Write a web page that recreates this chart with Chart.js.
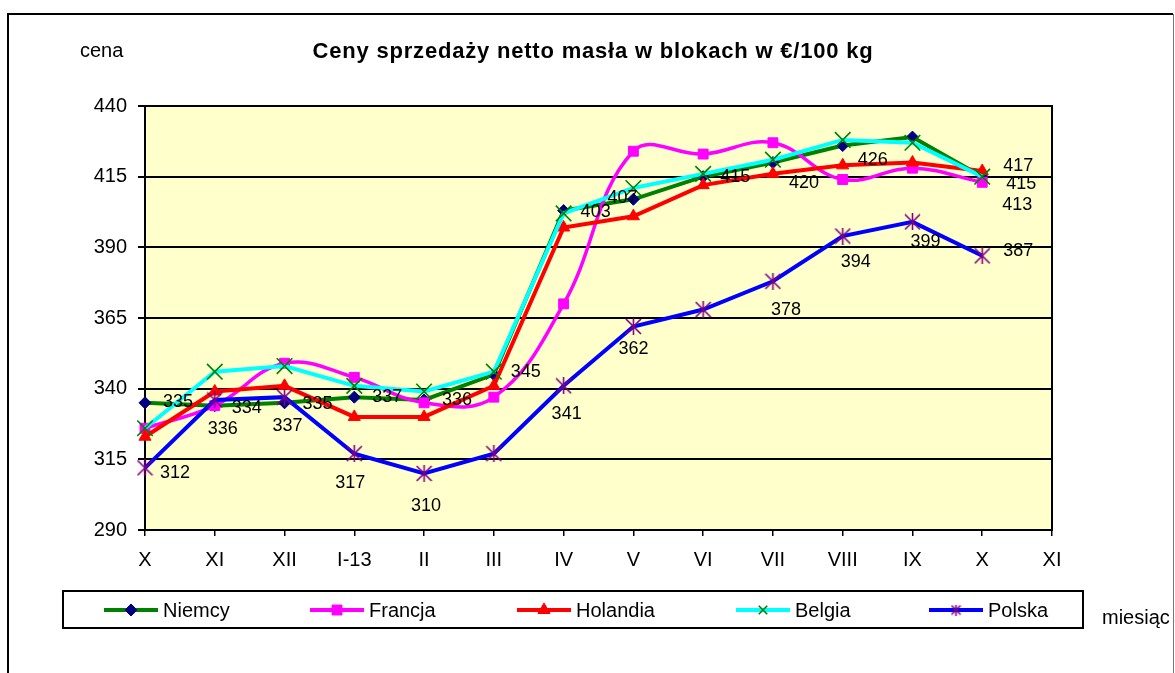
<!DOCTYPE html>
<html>
<head>
<meta charset="utf-8">
<script src="https://cdn.jsdelivr.net/npm/chart.js@4.4.1/dist/chart.umd.min.js"></script>
<style>
  html, body { margin: 0; padding: 0; background: #fff; }
  canvas { display: block; }
</style>
</head>
<body>
<canvas id="chart" width="1175" height="673"></canvas>
<script>
const months = ['X', 'XI', 'XII', 'I-13', 'II', 'III', 'IV', 'V', 'VI', 'VII', 'VIII', 'IX', 'X', 'XI'];
const niemcy   = [335, 334, 335, 337, 336, 345, 403, 407, 415, 420, 426, 429, 415];
const francja  = [326, 334, 349, 344, 335, 337, 370, 424, 423, 427, 414, 418, 413];
const holandia = [323, 339, 341, 330, 330, 341, 397, 401, 412, 416, 419, 420, 417];
const belgia   = [326, 346, 348, 341, 339, 346, 402, 411, 416, 421, 428, 427, 415];
const polska   = [312, 336, 337, 317, 310, 317, 341, 362, 368, 378, 394, 399, 387];
const yTicks = [290, 315, 340, 365, 390, 415, 440];

const FONT = '"Liberation Sans", Arial, sans-serif';

// value labels: point index -> [dx to text start, dy to text middle]
const labelOffsets = {
  0: {0: [18, -1], 1: [17, 2], 2: [18, 1], 3: [18, 0], 4: [18, 0], 5: [17, -3], 6: [17, 1],
      7: [-26, -1], 8: [17, 0], 9: [16, 20], 10: [15, 14], 12: [24, 7]},
  1: {12: [20, 23]},
  2: {12: [21, -5]},
  4: {0: [15, 5], 1: [-7, 29], 2: [-12, 29], 3: [-19, 29], 4: [-13, 33], 6: [-12, 28],
      7: [-15, 23], 9: [-2, 29], 10: [-2, 26], 11: [-2, 20], 12: [21, -5]}
};

// excel style asterisk marker (x plus vertical bar)
function makeStar(size, color) {
  const c = document.createElement('canvas');
  c.width = size; c.height = size;
  const g = c.getContext('2d');
  g.strokeStyle = color;
  g.lineWidth = 1.6;
  const m = size / 2, r = size / 2 - 1;
  g.beginPath();
  g.moveTo(m - r, m - r); g.lineTo(m + r, m + r);
  g.moveTo(m + r, m - r); g.lineTo(m - r, m + r);
  g.moveTo(m, 0); g.lineTo(m, size);
  g.stroke();
  return c;
}
const starBig = makeStar(17, '#800080');
const starSmall = makeStar(11, '#800080');

const legendX = [104, 310, 517, 736, 929];

const framePlugin = {
  id: 'frame',
  beforeDraw(chart) {
    const { ctx, chartArea: a } = chart;
    ctx.save();
    ctx.fillStyle = '#fff';
    ctx.fillRect(0, 0, chart.width, chart.height);
    ctx.fillStyle = '#FFFFCC';
    ctx.fillRect(a.left, a.top, a.right - a.left, a.bottom - a.top);
    ctx.restore();
  },
  beforeDatasetsDraw(chart) {
    const { ctx, chartArea: a } = chart;
    ctx.save();
    ctx.strokeStyle = '#000';
    ctx.lineWidth = 2;
    ctx.strokeRect(a.left, a.top, a.right - a.left, a.bottom - a.top);
    ctx.restore();
  },
  afterDraw(chart) {
    const { ctx } = chart;
    ctx.save();
    // outer frame
    ctx.strokeStyle = '#000';
    ctx.lineWidth = 2;
    ctx.beginPath();
    ctx.moveTo(8, 700); ctx.lineTo(8, 14); ctx.lineTo(1173, 14);
    ctx.stroke();
    ctx.strokeStyle = '#777';
    ctx.lineWidth = 1;
    ctx.beginPath();
    ctx.moveTo(1173.5, 14); ctx.lineTo(1173.5, 700);
    ctx.stroke();

    // title and axis names
    ctx.fillStyle = '#000';
    ctx.textBaseline = 'middle';
    ctx.textAlign = 'center';
    ctx.font = 'bold 22px ' + FONT;
    ctx.letterSpacing = '0.8px';
    ctx.fillText('Ceny sprzedaży netto masła w blokach w €/100 kg', 593, 52);
    ctx.letterSpacing = '0px';
    ctx.textAlign = 'left';
    ctx.font = '20px ' + FONT;
    ctx.fillText('cena', 80, 51);
    ctx.fillText('miesiąc', 1102, 618);

    // legend
    ctx.lineWidth = 2;
    ctx.strokeStyle = '#000';
    ctx.strokeRect(63, 591, 1020, 37);
    chart.data.datasets.forEach((ds, i) => {
      const x0 = legendX[i], y = 610;
      ctx.strokeStyle = ds.borderColor;
      ctx.lineWidth = 4;
      ctx.beginPath();
      ctx.moveTo(x0, y); ctx.lineTo(x0 + 54, y);
      ctx.stroke();
      ctx.fillStyle = ds.pointBackgroundColor;
      ctx.strokeStyle = ds.pointBorderColor;
      ctx.lineWidth = ds.pointBorderWidth;
      const style = ds.legendPointStyle || ds.pointStyle;
      Chart.helpers.drawPoint(ctx, {
        pointStyle: style, radius: ds.legendRadius || ds.pointRadius,
        borderWidth: ds.pointBorderWidth, rotation: 0
      }, x0 + 27, y);
      ctx.fillStyle = '#000';
      ctx.font = '20px ' + FONT;
      ctx.textAlign = 'left';
      ctx.textBaseline = 'middle';
      ctx.fillText(ds.label, x0 + 59, y + 1);
    });
    ctx.restore();
  },
  afterDatasetsDraw(chart) {
    const { ctx } = chart;
    ctx.save();
    ctx.fillStyle = '#000';
    ctx.font = '18px ' + FONT;
    ctx.textAlign = 'left';
    ctx.textBaseline = 'middle';
    Object.keys(labelOffsets).forEach(di => {
      const meta = chart.getDatasetMeta(+di);
      const data = chart.data.datasets[di].data;
      Object.keys(labelOffsets[di]).forEach(idx => {
        const pt = meta.data[idx];
        const [dx, dy] = labelOffsets[di][idx];
        ctx.fillText(String(data[idx]), pt.x + dx, pt.y + dy);
      });
    });
    ctx.restore();
  }
};

function series(label, data, line, point, style, radius, order, extra) {
  return Object.assign({
    label, data, order,
    borderColor: line, backgroundColor: line,
    borderWidth: 4,
    pointStyle: style, pointRadius: radius, pointHoverRadius: radius,
    pointBackgroundColor: point, pointBorderColor: point, pointBorderWidth: 1,
    tension: 0, clip: false
  }, extra || {});
}

const datasets = [
  series('Niemcy', niemcy, '#008000', '#000080', 'rectRot', 6, 4),
  series('Francja', francja, '#FF00FF', '#FF00FF', 'rect', 7, 3, { tension: 0.4, borderWidth: 3.5 }),
  series('Holandia', holandia, '#FF0000', '#FF0000', 'triangle', 7, 2),
  series('Belgia', belgia, '#00FFFF', '#008000', 'crossRot', 11, 1, { pointBorderWidth: 1.6, legendRadius: 6 }),
  series('Polska', polska, '#0000FF', '#800080', starBig, 8, 0, { legendPointStyle: starSmall })
];

new Chart(document.getElementById('chart'), {
  type: 'line',
  data: { labels: months, datasets },
  options: {
    responsive: false,
    animation: false,
    devicePixelRatio: 1,
    layout: { padding: { left: 0, top: 106, right: 123, bottom: 0 } },
    plugins: { legend: { display: false }, title: { display: false }, tooltip: { enabled: false } },
    scales: {
      x: {
        type: 'category',
        offset: false,
        grid: { display: true, drawOnChartArea: false, color: '#000', lineWidth: 1.5, tickLength: 6 },
        border: { display: true, color: '#000', width: 2 },
        ticks: { color: '#000', font: { family: FONT, size: 20 }, padding: 12, autoSkip: false, maxRotation: 0 },
        afterFit(s) { s.height = 143; }
      },
      y: {
        min: 290, max: 440,
        afterBuildTicks(s) { s.ticks = yTicks.map(v => ({ value: v })); },
        grid: { color: '#000', lineWidth: 2, tickLength: 7 },
        border: { display: true, color: '#000', width: 2 },
        ticks: { color: '#000', font: { family: FONT, size: 20 }, padding: 11 },
        afterFit(s) { s.width = 145; }
      }
    }
  },
  plugins: [framePlugin]
});
</script>
</body>
</html>
